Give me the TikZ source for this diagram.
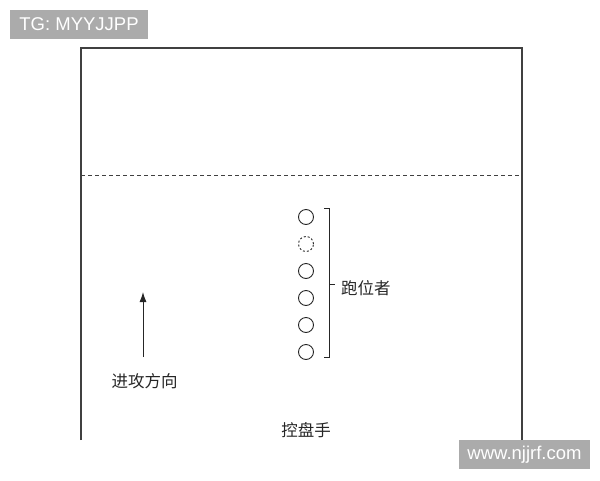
\documentclass[tikz,border=0pt]{standalone}
\usepackage{fontspec}
\setmainfont{Liberation Sans}
\newfontfamily\cjk{Noto Sans CJK SC}
\usetikzlibrary{arrows.meta}
\tikzset{runner/.style={
        circle,
        draw=black!85,
        line width=0.9pt,
        minimum size=15pt,
        inner sep=0pt},
        %
        ghost/.style={
            runner,
            dash pattern=on 2pt off 2pt},
        %
        label/.style={
            font=\cjk\fontsize{16.5}{16.5}\selectfont,
            text=black!85,
            inner sep=0pt},
        %
        mark box/.style={
            fill=black!33,
            text=white,
            font=\fontsize{18.5}{18.5}\selectfont,
            inner sep=0pt,
            minimum height=29pt}
        }
\def\rgap{27}

\begin{document}
\begin{tikzpicture}[x=1pt,y=-1pt,
                court/.style={draw=black!75,line width=1.1pt},
                half/.style={draw=black!75,line width=1pt,dash pattern=on 4pt off 3pt},
                brace/.style={draw=black!85,line width=1pt},
                attack/.style={draw=black!85,line width=1pt,-{Latex[length=10pt,width=7pt]}}
                ]
\useasboundingbox (0,0) rectangle (600,480);

% court
\coordinate (fbl) at (81,440);
\coordinate (ftl) at (81,48);
\coordinate (ftr) at (522,48);
\coordinate (fbr) at (522,440);
\draw[court] (fbl) -- (ftl) -- (ftr) -- (fbr);

\coordinate (hl) at (81,175);
\coordinate (hr) at (522,175);
\draw[half] (hl) -- (hr);

% runners
\foreach \i in {1,3,4,5,6}
    \node[runner] (r\i) at (306,{217+(\i-1)*\rgap}) {};
\node[ghost] (r2) at (306,{217+\rgap}) {};

% bracket
\coordinate (bt) at (324,208.5);
\coordinate (btr) at (329,208.5);
\coordinate (bbr) at (329,357.5);
\coordinate (bb) at (324,357.5);
\coordinate (bm) at (329,284);
\draw[brace] (bt) -- (btr) -- (bbr) -- (bb);
\node[label,anchor=west] (runlbl) at (341,288) {跑位者};
\draw[brace] (bm) -- ([xshift=-6pt]runlbl.west |- bm);

% attack direction
\coordinate (a0) at (143,357);
\coordinate (a1) at (143,292);
\draw[attack] (a0) -- (a1);
\node[label] (dirlbl) at (144.5,381) {进攻方向};

\node[label] (ballhnd) at (306,430) {控盘手};

% marks
\node[mark box,minimum width=138pt] (tg) at (79,24.5) {TG: MYYJJPP};
\node[mark box,minimum width=131pt] (site) at (524.5,454.5) {www.njjrf.com};
\end{tikzpicture}
\end{document}
